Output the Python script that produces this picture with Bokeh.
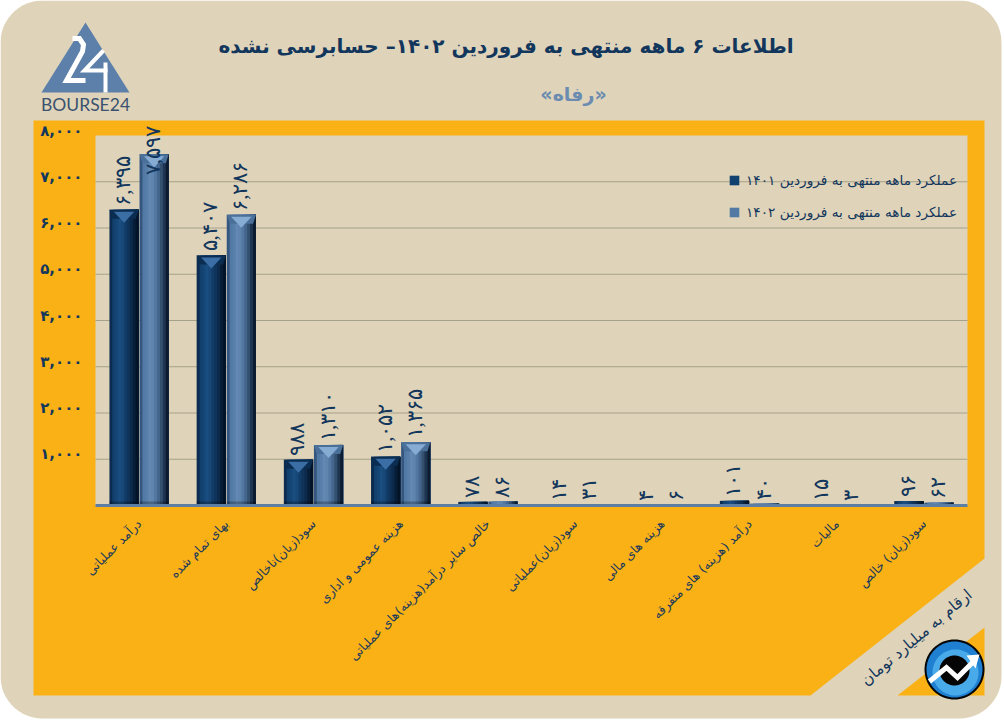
import numpy as np
from bokeh.plotting import figure
from bokeh.models import (ColumnDataSource, FixedTicker, Label, LabelSet, Legend, LegendItem, Range1d)
from bokeh.embed import file_html
from bokeh.resources import INLINE

categories = ["درآمد عملیاتی", "بهای تمام شده", "سود(زیان)ناخالص", "هزینه عمومی و اداری",
              "خالص سایر درآمد(هزینه)های عملیاتی", "سود(زیان)عملیاتی", "هزینه های مالی",
              "درآمد (هزینه) های متفرقه", "مالیات", "سود(زیان) خالص"]
values_1401 = [6395, 5407, 988, 1052, 78, 14, 4, 101, 15, 96]
values_1402 = [7597, 6286, 1310, 1365, 86, 31, 6, 40, 3, 62]
labels_1401 = ["۶,۳۹۵", "۵,۴۰۷", "۹۸۸", "۱,۰۵۲", "۷۸", "۱۴", "۴", "۱۰۱", "۱۵", "۹۶"]
labels_1402 = ["۷,۵۹۷", "۶,۲۸۶", "۱,۳۱۰", "۱,۳۶۵", "۸۶", "۳۱", "۶", "۴۰", "۳", "۶۲"]
y_ticks = [1000, 2000, 3000, 4000, 5000, 6000, 7000, 8000]
y_tick_labels = ["۱,۰۰۰", "۲,۰۰۰", "۳,۰۰۰", "۴,۰۰۰", "۵,۰۰۰", "۶,۰۰۰", "۷,۰۰۰", "۸,۰۰۰"]
series_names = ["عملکرد ماهه منتهی به فروردین ۱۴۰۱", "عملکرد ماهه منتهی به فروردین ۱۴۰۲"]
title_text = "اطلاعات  ۶ ماهه منتهی به فروردین ۱۴۰۲– حسابرسی نشده"
subtitle_text = "«رفاه»"
note_text = "ارقام به میلیارد تومان"

FONT = "DejaVu Sans"
NAVY = "#12365c"
BEIGE = "#dfd4b9"
YELLOW = "#f9b116"

W, H = 1004, 720
L, R, T, B = 95, 967, 135, 505   # plot area in window pixels
PITCH = (R - L) / len(categories)
U = 8000 / (B - T)              # value units per pixel
TICK_LIFT = 5                   # tick labels sit this many pixels above their gridline

p = figure(width=W, height=H, output_backend="svg", toolbar_location=None,
           x_range=Range1d(-L / PITCH, (W - L) / PITCH),
           y_range=Range1d(-(H - B) * U, 8000 + T * U),
           min_border=0, min_border_left=0, min_border_right=0, min_border_top=0, min_border_bottom=0,
           background_fill_color="white", border_fill_color="white", outline_line_color=None)
p.extra_x_ranges["px"] = Range1d(0, W)
p.extra_y_ranges["px"] = Range1d(H, 0)
p.extra_y_ranges["ticks"] = Range1d(-(H - B + TICK_LIFT) * U, 8000 + (T - TICK_LIFT) * U)
PX = dict(x_range_name="px", y_range_name="px")


def poly(xs, ys, fill, level="image"):
    p.patch(list(map(float, xs)), list(map(float, ys)), fill_color=fill, line_color=None, level=level, **PX)


def stroke(pts, color, lw, level="image"):
    p.line([q[0] for q in pts], [q[1] for q in pts], line_color=color, line_width=lw,
           line_join="miter", level=level, **PX)


def circle(cx, cy, r, fill, level="image"):
    t = np.linspace(0, 2 * np.pi, 72, endpoint=False)
    poly(cx + r * np.cos(t), cy + r * np.sin(t), fill, level=level)


def rrect(x0, y0, x1, y1, r):
    xs, ys = [], []
    for cx, cy, a in [(x0 + r, y0 + r, 180), (x1 - r, y0 + r, 270), (x1 - r, y1 - r, 0), (x0 + r, y1 - r, 90)]:
        t = np.radians(np.linspace(a, a + 90, 14))
        xs += list(cx + r * np.cos(t))
        ys += list(cy + r * np.sin(t))
    return xs, ys


def text(x, y, s, size, color=NAVY, bold=False, angle=0, font=FONT, align="center"):
    p.add_layout(Label(x=x, y=y, text=s, text_font=font, text_font_size=f"{size}px", text_color=color,
                       text_font_style="bold" if bold else "normal", text_align=align,
                       text_baseline="middle", angle=angle, angle_units="deg", **PX))


# page furniture
poly(*rrect(0, 0, 1001, 718, 42), BEIGE)
poly([33, 984, 984, 810, 33], [120, 120, 558, 695, 695], YELLOW)
poly([984, 984, 897], [627, 695, 695], YELLOW)
poly([L, R, R, L], [T, T, B, B], BEIGE)

# logo
poly([85, 129, 41], [22, 92, 92], "#5d80ab")
stroke([(72, 38), (79, 38), (83, 44), (82, 51), (66, 80), (85, 80)], "white", 5)
stroke([(103, 50), (84, 70), (107, 70)], "white", 4)
stroke([(105, 62), (105, 92)], "white", 4)
text(85, 104, "BOURSE24", 17.5, "#3a5270", font="Lato")

# round icon
circle(954, 669, 30, "#050505")
circle(954, 669, 28, "#1f7fd0")
circle(955, 672, 23, "#49aaea")
circle(954, 670, 15, "#050505")
stroke([(929, 681), (946, 667), (957, 677), (972, 662)], "white", 5)
poly([966, 979, 975], [655, 654, 668], "white")

# axes
p.xaxis.ticker = FixedTicker(ticks=[i + 0.5 for i in range(len(categories))])
p.xaxis.major_label_overrides = {i + 0.5: c for i, c in enumerate(categories)}
p.xaxis.fixed_location = 0
p.xaxis.bounds = (0, len(categories))
p.xaxis.axis_line_color = "#5c7ea3"
p.xaxis.axis_line_width = 3
p.xaxis.major_tick_line_color = None
p.xaxis.minor_tick_line_color = None
p.xaxis.major_label_orientation = np.pi / 4
p.xaxis.major_label_standoff = 10
p.xaxis.major_label_text_font = FONT
p.xaxis.major_label_text_font_size = "12.5px"
p.xaxis.major_label_text_color = "#1c3a5a"

p.yaxis.y_range_name = "ticks"
p.yaxis.ticker = FixedTicker(ticks=y_ticks)
p.yaxis.major_label_overrides = dict(zip(y_ticks, y_tick_labels))
p.yaxis.fixed_location = 0
p.yaxis.axis_line_color = None
p.yaxis.major_tick_line_color = None
p.yaxis.minor_tick_line_color = None
p.yaxis.major_label_standoff = 7
p.yaxis.major_label_text_font = FONT
p.yaxis.major_label_text_font_style = "bold"
p.yaxis.major_label_text_font_size = "15px"
p.yaxis.major_label_text_color = NAVY

p.grid.visible = False
p.segment(x0=[0] * 7, x1=[len(categories)] * 7, y0=y_ticks[:7], y1=y_ticks[:7],
          line_color="#a5a18a", line_width=1, level="underlay")

# bars: vertical strips, each painted through to the right edge, give the bevelled look
BAR = 0.335
stops_1401 = ["#0b2b50", "#12406f", "#154676", "#1a4d80", "#174878", "#123c68", "#0f3359", "#0c2a4c", "#081e38", "#041428"]
stops_1402 = ["#35567f", "#527aa4", "#587fa9", "#6388b2", "#5f84ae", "#5277a0", "#44658c", "#33506f", "#1e3450", "#0c1c30"]
tops = [("#0c2d52", "#3a6ea5"), ("#4a7099", "#86acd4")]


def bars(values, left_off, stops, top_cols, labels, lab_dx):
    values = np.array(values, dtype=float)
    base = np.arange(len(values)) + 0.5 + left_off
    n = len(stops)
    first = None
    for i, col in enumerate(stops):
        src = ColumnDataSource(dict(left=base + BAR * i / n, right=base + BAR,
                                    top=values, bottom=0 * values))
        r = p.quad(left="left", right="right", top="top", bottom="bottom", source=src,
                   fill_color=col, line_color=None)
        if i == 1:
            first = r
    big = values > 300
    xb, vb = base[big], values[big]
    p.patches(xs=[[x, x + BAR, x + BAR * .9, x + BAR * .1] for x in xb],
              ys=[[v, v, v - 9 * U, v - 9 * U] for v in vb], fill_color=top_cols[0], line_color=None)
    p.patches(xs=[[x + BAR * .15, x + BAR * .85, x + BAR * .5] for x in xb],
              ys=[[v - 2 * U, v - 2 * U, v - 13 * U] for v in vb], fill_color=top_cols[1], line_color=None)
    p.quad(left=xb, right=xb + BAR, top=[4 * U] * len(xb), bottom=[0] * len(xb),
           fill_color="#000000", fill_alpha=0.25, line_color=None)
    # the tallest label is pushed down into its bar so that it stays inside the panel
    offs = [-21 if v > 7000 else 4 for v in values]
    lab = ColumnDataSource(dict(x=base + BAR * 0.5, y=values, t=labels, o=offs))
    p.add_layout(LabelSet(x="x", y="y", text="t", source=lab, angle=90, angle_units="deg",
                          x_offset=lab_dx, y_offset="o", text_align="left", text_baseline="middle",
                          text_font=FONT, text_font_size="21px", text_color=NAVY))
    return first


r1 = bars(values_1401, -BAR - 0.005, stops_1401, tops[0], labels_1401, -1)
r2 = bars(values_1402, 0.005, stops_1402, tops[1], labels_1402, -1)

legend = Legend(items=[LegendItem(label=series_names[0], renderers=[r1]),
                       LegendItem(label=series_names[1], renderers=[r2])],
                location=(728, 500), background_fill_alpha=0, border_line_color=None,
                label_text_font=FONT, label_text_font_size="13.7px", label_text_color=NAVY,
                glyph_width=12, glyph_height=12, spacing=16, label_standoff=6, margin=0, padding=4)
p.add_layout(legend, "center")

# titles
text(509, 45, title_text, 20, NAVY, bold=True)
text(573, 93, subtitle_text, 19, "#6b8bb0", bold=True)
text(916, 637, note_text, 15.5, NAVY, angle=40)

open("out.html", "w").write(file_html(p, INLINE))
